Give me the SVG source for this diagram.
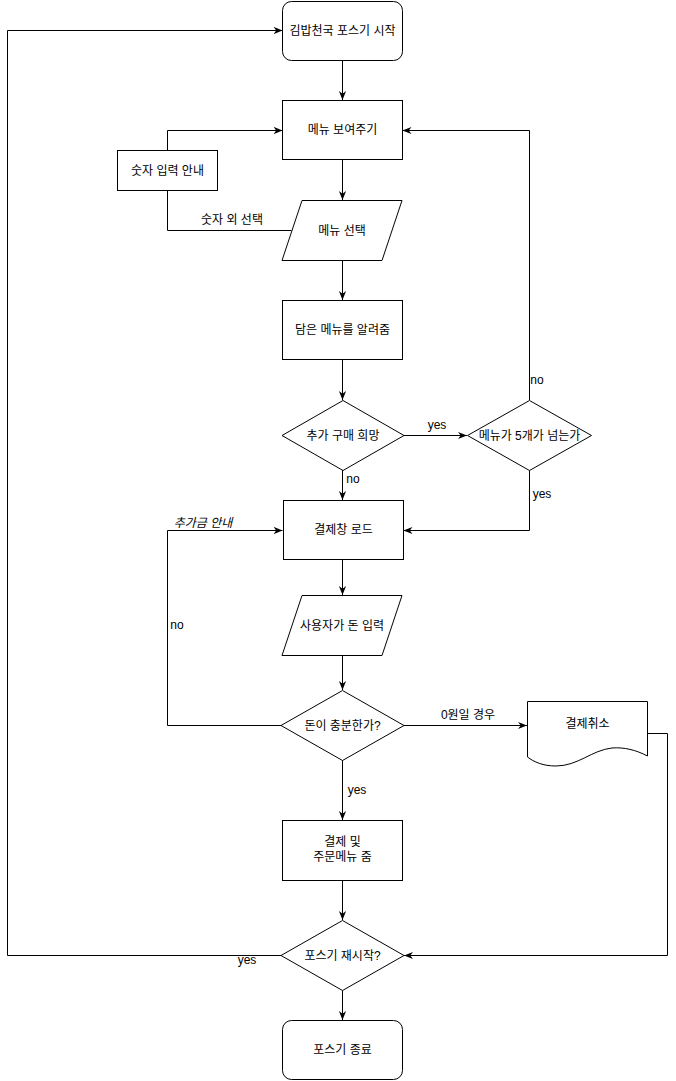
<svg xmlns="http://www.w3.org/2000/svg" width="676" height="1081" viewBox="0 0 676 1081">
<defs>
<style>
.n{fill:#fff;stroke:#000;stroke-width:1}
.c{fill:none;stroke:#000;stroke-width:1}
text{font-family:"Liberation Sans","Noto Sans CJK KR",sans-serif;font-size:12px;fill:#000}
.t{text-anchor:middle;dominant-baseline:central}
.l{text-anchor:middle;dominant-baseline:central}
</style>
<marker id="a" viewBox="0 0 10 10" refX="10" refY="5" markerWidth="9" markerHeight="9" markerUnits="userSpaceOnUse" orient="auto">
<path d="M0,1 L10,5 L0,9 L3,5 z" fill="#000"/>
</marker>
</defs>
<rect width="676" height="1081" fill="#fff"/>
<g id="connectors">
<path class="c" d="M342.5,60.5 V100" marker-end="url(#a)"/>
<path class="c" d="M342.5,160 V200" marker-end="url(#a)"/>
<path class="c" d="M167.5,150 V130.5 H282.5" marker-end="url(#a)"/>
<path class="c" d="M167.5,190.5 V230.5 H291.5"/>
<path class="c" d="M342.5,260 V300" marker-end="url(#a)"/>
<path class="c" d="M342.5,360 V400" marker-end="url(#a)"/>
<path class="c" d="M404,435.5 H467" marker-end="url(#a)"/>
<path class="c" d="M529.5,400 V130.5 H402.5" marker-end="url(#a)"/>
<path class="c" d="M529.5,470 V530.5 H403.5" marker-end="url(#a)"/>
<path class="c" d="M342.5,470 V500" marker-end="url(#a)"/>
<path class="c" d="M342.5,560 V595" marker-end="url(#a)"/>
<path class="c" d="M342.5,655 V690" marker-end="url(#a)"/>
<path class="c" d="M281.5,725.5 H167.5 V530.5 H282.5" marker-end="url(#a)"/>
<path class="c" d="M404,725.5 H527" marker-end="url(#a)"/>
<path class="c" d="M647.5,733.5 H667.5 V955.5 H404" marker-end="url(#a)"/>
<path class="c" d="M342.5,760 V820" marker-end="url(#a)"/>
<path class="c" d="M342.5,880 V920" marker-end="url(#a)"/>
<path class="c" d="M281.5,955.5 H7.5 V30.5 H282.5" marker-end="url(#a)"/>
<path class="c" d="M342.5,990 V1020" marker-end="url(#a)"/>
<text class="l" x="232" y="220">숫자 외 선택</text>
<text class="l" x="437" y="425">yes</text>
<text class="l" x="537" y="380">no</text>
<text class="l" x="542" y="494">yes</text>
<text class="l" x="353" y="479">no</text>
<text class="l" x="203" y="523" font-style="italic">추가금 안내</text>
<text class="l" x="177" y="625">no</text>
<text class="l" x="468" y="715">0원일 경우</text>
<text class="l" x="357" y="790">yes</text>
<text class="l" x="247" y="960">yes</text>
</g>
<g id="start"><rect class="n" x="282.5" y="1.5" width="120" height="59" rx="9"/><text class="t" x="342.5" y="31">김밥천국 포스기 시작</text></g>
<g id="show-menu"><rect class="n" x="282.5" y="100.5" width="120" height="59"/><text class="t" x="342.5" y="130">메뉴 보여주기</text></g>
<g id="number-guide"><rect class="n" x="117.5" y="150.5" width="100" height="40"/><text class="t" x="167.5" y="170.5">숫자 입력 안내</text></g>
<g id="select-menu"><polygon class="n" points="302,200.5 402,200.5 382,260.5 282,260.5"/><text class="t" x="342" y="230.5">메뉴 선택</text></g>
<g id="cart"><rect class="n" x="282.5" y="300.5" width="120" height="59"/><text class="t" x="342.5" y="330">담은 메뉴를 알려줌</text></g>
<g id="more"><polygon class="n" points="343,400.5 404,435.5 343,470.5 282,435.5"/><text class="t" x="343" y="435.5">추가 구매 희망</text></g>
<g id="over5"><polygon class="n" points="529.5,400.5 591.5,435.5 529.5,470.5 467.5,435.5"/><text class="t" x="529.5" y="435.5">메뉴가 5개가 넘는가</text></g>
<g id="pay-load"><rect class="n" x="283.5" y="500.5" width="120" height="59"/><text class="t" x="343.5" y="530">결제창 로드</text></g>
<g id="input-money"><polygon class="n" points="302,595.5 402,595.5 382,655.5 282,655.5"/><text class="t" x="342" y="625.5">사용자가 돈 입력</text></g>
<g id="enough"><polygon class="n" points="342.5,690.5 404,725.5 342.5,760.5 281,725.5"/><text class="t" x="342.5" y="725.5">돈이 충분한가?</text></g>
<g id="cancel"><path class="n" d="M527.5,701.5 H647.5 V756 C 636,750 624,747 612,748 C 592,750 578,766 556,766 C 543,766 534,762 527.5,757 Z"/><text class="t" x="587.5" y="724">결제취소</text></g>
<g id="pay"><rect class="n" x="282.5" y="820.5" width="120" height="60"/><text class="t" x="342.5" y="842">결제 및</text><text class="t" x="342.5" y="857">주문메뉴 줌</text></g>
<g id="restart"><polygon class="n" points="342.5,920.5 404,955.5 342.5,990.5 281,955.5"/><text class="t" x="342.5" y="955.5">포스기 재시작?</text></g>
<g id="end"><rect class="n" x="282.5" y="1020.5" width="120" height="59" rx="9"/><text class="t" x="342.5" y="1050">포스기 종료</text></g>
</svg>
